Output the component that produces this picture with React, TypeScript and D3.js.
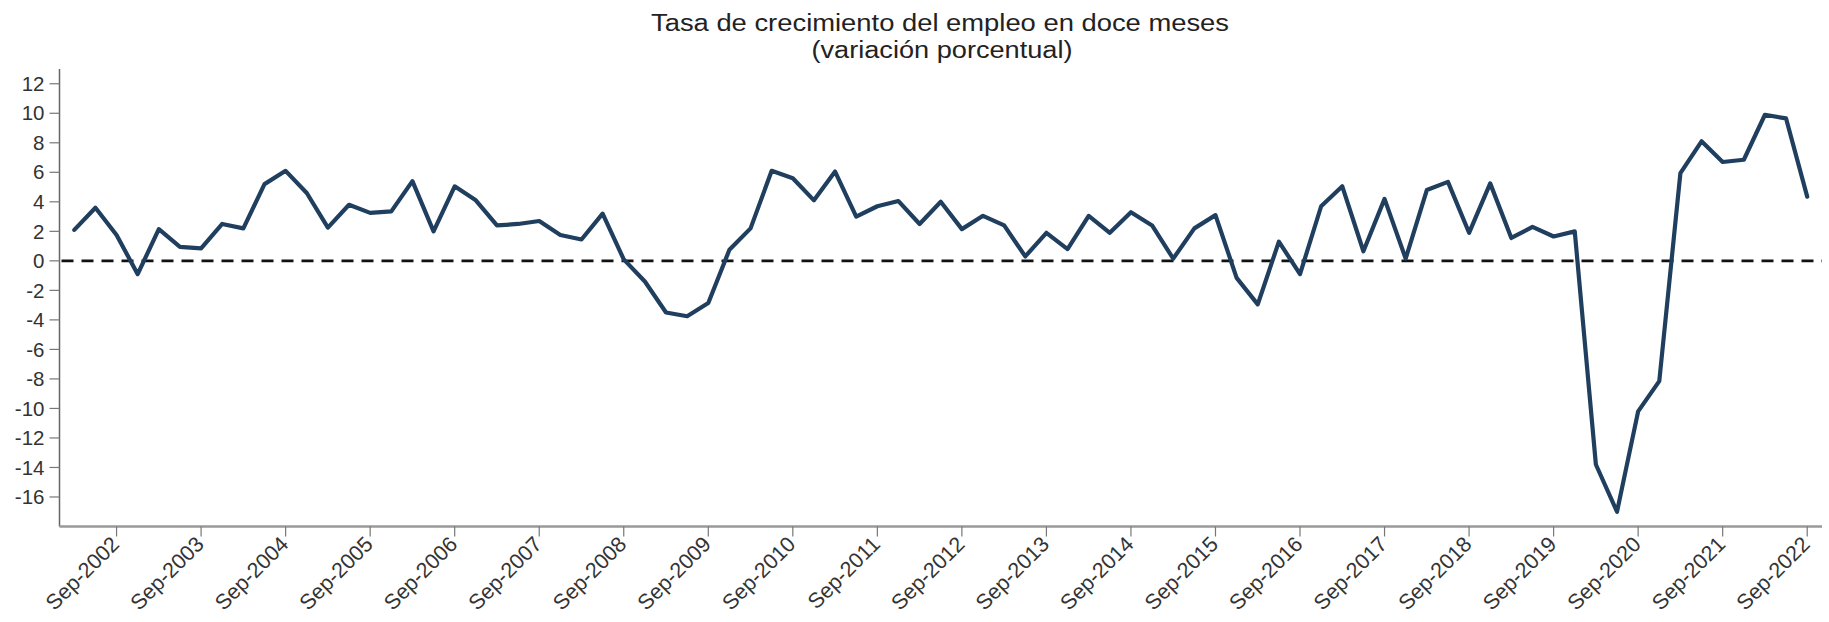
import React from "react";
import * as d3 from "d3";

const TITLE_LINE_1 = "Tasa de crecimiento del empleo en doce meses";
const TITLE_LINE_2 = "(variación porcentual)";

const YEARS = [2002, 2003, 2004, 2005, 2006, 2007, 2008, 2009, 2010, 2011, 2012, 2013, 2014, 2015, 2016, 2017, 2018, 2019, 2020, 2021, 2022];
const QUARTER_MONTHS = ["Mar", "Jun", "Sep", "Dec"];
const LAST_CATEGORY = "Sep-2022";

const EMPLOYMENT_GROWTH = [
  2.1, 3.6, 1.75, -0.9,
  2.15, 0.95, 0.85, 2.5,
  2.2, 5.2, 6.1, 4.6,
  2.25, 3.8, 3.25, 3.35,
  5.4, 2.0, 5.05, 4.1,
  2.4, 2.5, 2.7, 1.75,
  1.45, 3.2, 0.1, -1.4,
  -3.5, -3.75, -2.85, 0.75,
  2.2, 6.1, 5.6, 4.1,
  6.05, 3.0, 3.7, 4.05,
  2.5, 4.0, 2.15, 3.05,
  2.4, 0.3, 1.9, 0.8,
  3.05, 1.9, 3.3, 2.4,
  0.15, 2.2, 3.1, -1.15,
  -2.95, 1.3, -0.9, 3.7,
  5.05, 0.65, 4.2, 0.15,
  4.8, 5.35, 1.9, 5.25,
  1.55, 2.3, 1.65, 2.0,
  -13.8, -17.0, -10.2, -8.15,
  5.95, 8.1, 6.7, 6.85,
  9.9, 9.65, 4.35,
];

const Y_TICKS = [-16, -14, -12, -10, -8, -6, -4, -2, 0, 2, 4, 6, 8, 10, 12];
const TICK_MONTH = "Sep";

const allCats = YEARS.flatMap((y) => QUARTER_MONTHS.map((m) => `${m}-${y}`));
const CATEGORIES = allCats.slice(0, allCats.indexOf(LAST_CATEGORY) + 1);
const X_TICKS = CATEGORIES.filter((c) => c.startsWith(TICK_MONTH));

const W = 1829;
const H = 622;
const FONT = "'Liberation Sans', Arial, Helvetica, sans-serif";

export default function App() {
  const x = d3.scalePoint<string>().domain(CATEGORIES).range([59.5, 1822]).padding(0.7);
  const y = d3.scaleLinear().domain([-18, 13]).range([526.5, 69]);
  const data = CATEGORIES.map((c, i) => ({ c, v: EMPLOYMENT_GROWTH[i] }));
  const line = d3
    .line<{ c: string; v: number }>()
    .x((d) => x(d.c) as number)
    .y((d) => y(d.v));

  const axisX0 = 59.5;
  const axisX1 = 1822;
  const axisY = y(-18);

  return (
    <svg
      width={W}
      height={H}
      viewBox={`0 0 ${W} ${H}`}
      style={{ position: "absolute", left: 0, top: 0, background: "#fff" }}
      fontFamily={FONT}
    >
      <rect x={0} y={0} width={W} height={H} fill="#fff" />
      {/* Title */}
      <text
        x={940}
        y={31}
        fontSize={23}
        fill="#222"
        textAnchor="middle"
        textLength={578}
        lengthAdjust="spacingAndGlyphs"
      >
        {TITLE_LINE_1}
      </text>
      <text
        x={942}
        y={58}
        fontSize={23}
        fill="#222"
        textAnchor="middle"
        textLength={261}
        lengthAdjust="spacingAndGlyphs"
      >
        {TITLE_LINE_2}
      </text>

      {/* Y axis */}
      <line x1={axisX0} x2={axisX0} y1={y(13)} y2={axisY} stroke="#666" strokeWidth={1.5} />
      {Y_TICKS.map((t) => (
        <g key={t}>
          <line x1={axisX0 - 10} x2={axisX0} y1={y(t)} y2={y(t)} stroke="#777" strokeWidth={1.2} />
          <text
            x={axisX0 - 15}
            y={y(t)}
            dy="0.35em"
            fontSize={20.5}
            fill="#333"
            textAnchor="end"
          >
            {t}
          </text>
        </g>
      ))}

      {/* X axis */}
      <line x1={axisX0} x2={axisX1} y1={axisY} y2={axisY} stroke="#999" strokeWidth={2.5} />
      {X_TICKS.map((c) => {
        const px = x(c) as number;
        return (
          <g key={c}>
            <line x1={px} x2={px} y1={axisY} y2={axisY + 10} stroke="#777" strokeWidth={1.2} />
            <text
              transform={`translate(${px + 4},${axisY + 19}) rotate(-45)`}
              fontSize={21.5}
              fill="#333"
              textAnchor="end"
            >
              {c}
            </text>
          </g>
        );
      })}

      {/* Zero reference line */}
      <line
        x1={axisX0 + 2}
        x2={axisX1}
        y1={y(0)}
        y2={y(0)}
        stroke="#111"
        strokeWidth={2.8}
        strokeDasharray="12,8"
      />

      {/* Series */}
      <path
        d={line(data) ?? ""}
        fill="none"
        stroke="#203f5f"
        strokeWidth={4.2}
        strokeLinejoin="round"
        strokeLinecap="round"
      />
    </svg>
  );
}
